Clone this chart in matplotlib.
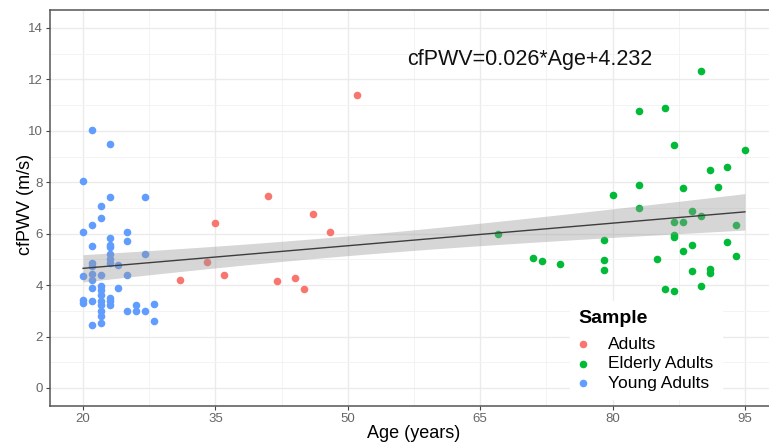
import numpy as np
import matplotlib.pyplot as plt

# cfPWV vs age, three age groups, linear fit with 95% band
plt.rcParams['font.family'] = ['Liberation Sans', 'DejaVu Sans']

young_age = [21, 23, 20, 23, 27, 22, 22, 21, 20, 25, 25, 23, 23, 23, 21, 23, 23, 23, 27, 24,
             21, 21, 20, 21, 21, 22, 25, 21, 22, 22, 24, 22, 20, 20, 21, 22, 22, 23, 23, 23,
             22, 22, 21, 22, 25, 26, 26, 27, 28, 28]
young_pwv = [10.05, 9.5, 8.05, 7.42, 7.42, 7.07, 6.6, 6.33, 6.06, 6.08, 5.7, 5.85, 5.56, 5.5, 5.54, 5.22, 5.03, 4.86, 5.22, 4.77,
             4.86, 4.73, 4.34, 4.45, 4.19, 4.41, 4.41, 3.9, 3.95, 3.82, 3.88, 3.62, 3.44, 3.31, 3.4, 3.4, 3.24, 3.5, 3.37, 3.21,
             2.98, 2.79, 2.46, 2.53, 2.98, 3.24, 2.98, 2.98, 3.27, 2.62]

adult_age = [31, 34, 35, 36, 41, 42, 44, 45, 46, 48, 51]
adult_pwv = [4.2, 4.9, 6.4, 4.4, 7.45, 4.15, 4.28, 3.85, 6.78, 6.05, 11.38]

elder_age = [67, 71, 72, 74, 79, 79, 79, 80, 83, 83, 83, 85, 86, 86, 87, 87, 87, 87, 87, 88,
             88, 88, 89, 89, 89, 90, 90, 90, 91, 91, 91, 92, 93, 93, 94, 94, 95]
elder_pwv = [6.0, 5.05, 4.95, 4.82, 5.75, 4.97, 4.6, 7.5, 10.76, 7.9, 7.0, 5.03, 10.87, 3.85, 9.44, 6.45, 5.95, 5.87, 3.77, 7.77,
             6.46, 5.34, 6.9, 5.55, 4.55, 12.32, 6.7, 3.95, 8.49, 4.63, 4.47, 7.8, 8.61, 5.69, 6.34, 5.12, 9.26]

groups = ["Adults", "Elderly Adults", "Young Adults"]
colors = ["#F8766D", "#00BA38", "#619CFF"]
equation = "cfPWV=0.026*Age+4.232"

fig = plt.figure(figsize=(7.69, 4.43), dpi=100)
ax = fig.add_axes([50 / 769, 1 - 406 / 443, 728 / 769, 396 / 443])

series = [(adult_age, adult_pwv), (elder_age, elder_pwv), (young_age, young_pwv)]
for (a, p), name, c in zip(series, groups, colors):
    ax.scatter(a, p, s=30, color=c, label=name, zorder=3, linewidths=0)

# linear model over all points
x = np.array(young_age + adult_age + elder_age, dtype=float)
y = np.array(young_pwv + adult_pwv + elder_pwv)
slope, intercept = np.polyfit(x, y, 1)
n = len(x)
resid = y - (slope * x + intercept)
s = np.sqrt(np.sum(resid ** 2) / (n - 2))
xs = np.linspace(x.min(), x.max(), 200)
ys = slope * xs + intercept
se = s * np.sqrt(1 / n + (xs - x.mean()) ** 2 / np.sum((x - x.mean()) ** 2))
ax.fill_between(xs, ys - 1.98 * se, ys + 1.98 * se, color="#999999", alpha=0.4, lw=0, zorder=4)
ax.plot(xs, ys, color="#3d3d3d", lw=1.0, zorder=5)

ax.text(70.6, 12.77, equation, fontsize=15.5, ha="center", va="center", color="#111111")

ax.set_xlim(16.25, 98.75)
ax.set_ylim(-0.7, 14.7)
ax.set_xticks([20, 35, 50, 65, 80, 95])
ax.set_yticks([0, 2, 4, 6, 8, 10, 12, 14])
ax.set_xticks([27.5, 42.5, 57.5, 72.5, 87.5], minor=True)
ax.set_yticks([1, 3, 5, 7, 9, 11, 13], minor=True)
ax.grid(which="major", color="#ebebeb", lw=1.0)
ax.grid(which="minor", color="#f3f3f3", lw=0.7)
ax.set_axisbelow(True)
ax.tick_params(axis="both", which="major", colors="#444444", labelcolor="#666666",
               labelsize=9.5, length=3, pad=2)
ax.tick_params(axis="both", which="minor", length=0)
for sp in ax.spines.values():
    sp.set_color("#555555")
    sp.set_linewidth(1.1)

ax.set_xlabel("Age (years)", fontsize=13)
ax.set_ylabel("cfPWV (m/s)", fontsize=13)
ax.xaxis.set_label_coords(0.5, -0.047)
ax.yaxis.set_label_coords(-0.022, 0.51)

leg = ax.legend(title="Sample", loc="lower left", frameon=True, fontsize=12.5,
                title_fontproperties={"weight": "bold", "size": 14},
                handlelength=0.5, handletextpad=1.2, labelspacing=0.25,
                markerscale=1.0, borderpad=0.5)
leg.get_frame().set_edgecolor("white")
leg.get_frame().set_facecolor("white")
leg.get_frame().set_alpha(1)
leg._legend_box.align = "left"
leg._legend_box.sep = 7
leg.set_zorder(6)
leg.set_bbox_to_anchor((561 / 769, 35 / 443), transform=fig.transFigure)

fig.savefig("out.png", dpi=100)
